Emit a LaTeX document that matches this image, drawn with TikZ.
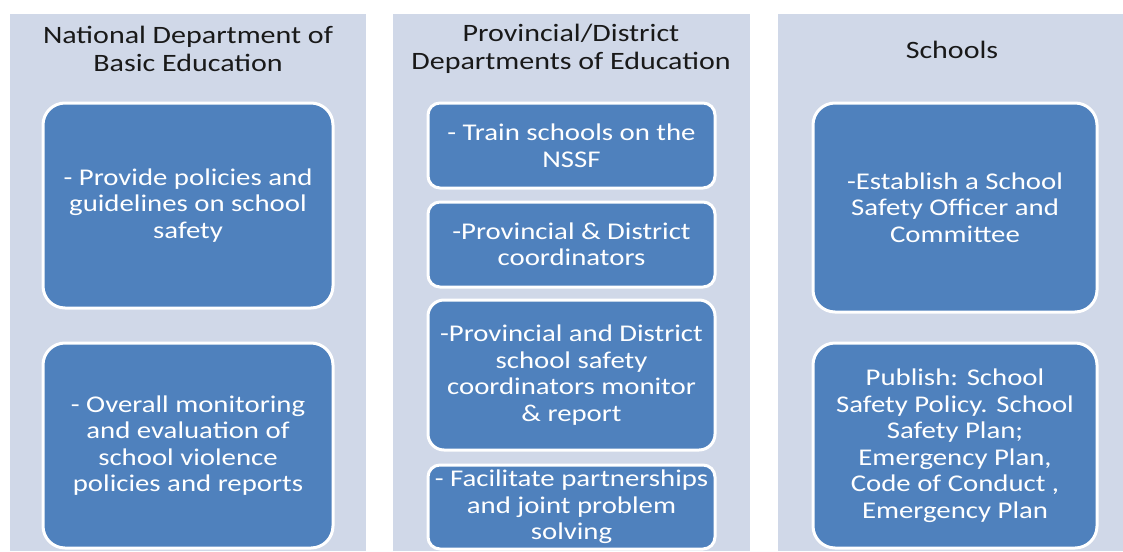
\documentclass[tikz,border=0pt]{standalone}
\usepackage{fontspec}
\setmainfont{Carlito}[FakeStretch=1.2]
\definecolor{panelbg}{RGB}{208,216,232}
\definecolor{boxblue}{RGB}{79,129,189}
\definecolor{titletext}{RGB}{25,25,25}
\begin{document}
\begin{tikzpicture}[x=1pt,y=-1pt,
  panel/.style={fill=panelbg,draw=none},
  titlelabel/.style={text=titletext,align=center,font=\fontsize{25}{28}\selectfont,inner sep=0pt},
  bluebox/.style={fill=boxblue,draw=white,line width=3pt,rounded corners=#1,
    text=white,align=center,font=\fontsize{24}{26.5}\selectfont,inner sep=0pt},
  bluebox/.default=22pt]
\useasboundingbox (0,0) rectangle (1123,551);
\fill[white] (0,0) rectangle (1123,551);
% panels
\path[panel] (10,14) rectangle (366,551);
\path[panel] (393,14) rectangle (750,551);
\path[panel] (778,14) rectangle (1123,551);
% titles
\node[titlelabel] (t1) at (188,49) {National Department of\\Basic Education};
\node[titlelabel] (t2) at (571,49) {Provincial/District\\Departments of Education};
\node[titlelabel] (t3) at (952,50) {Schools};
% column 1
\node[bluebox, minimum width=290pt, minimum height=205pt] (a1) at (188,205.5)
  {- Provide policies and\\guidelines on school\\safety};
\node[bluebox, minimum width=290pt, minimum height=205pt] (a2) at (188,445.5)
  {- Overall monitoring\\and evaluation of\\school violence\\policies and reports};
% column 2
\node[bluebox=12pt, minimum width=287pt, minimum height=85pt] (b1) at (571.5,145.5)
  {- Train schools on the\\NSSF};
\node[bluebox=12pt, minimum width=287pt, minimum height=85pt] (b2) at (571.5,244.5)
  {-Provincial \& District\\coordinators};
\node[bluebox=16pt, minimum width=287pt, minimum height=150pt] (b3) at (571.5,375)
  {-Provincial and District\\school safety\\coordinators monitor\\\& report};
\node[bluebox=12pt, minimum width=287pt, minimum height=84pt] (b4) at (571.5,507)
  {- Facilitate partnerships\\and joint problem\\solving};
% column 3
\node[bluebox, minimum width=284pt, minimum height=209pt] (c1) at (955,207.5)
  {-Establish a School\\Safety Officer and\\Committee};
\node[bluebox, minimum width=284pt, minimum height=205pt] (c2) at (955,445.5)
  {Publish: School\\Safety Policy. School\\Safety Plan;\\Emergency Plan,\\Code of Conduct ,\\Emergency Plan};
\end{tikzpicture}
\end{document}
